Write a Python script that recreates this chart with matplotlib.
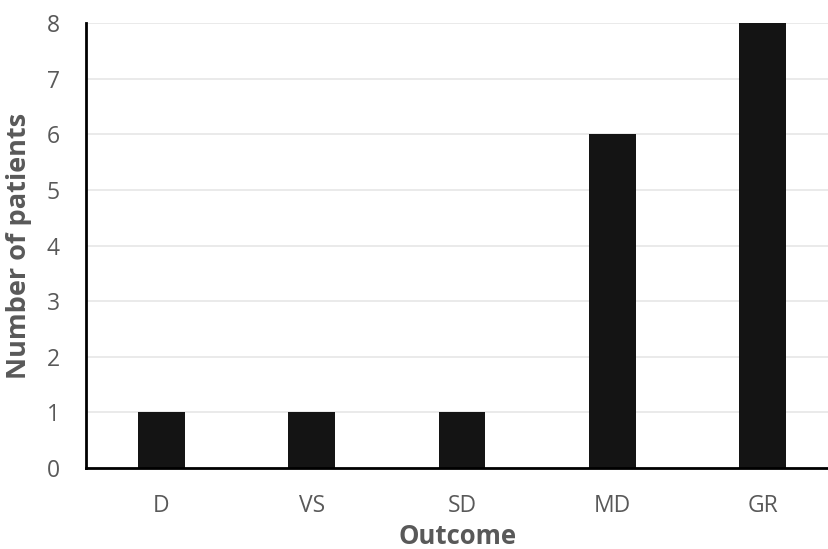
import matplotlib.pyplot as plt

outcomes = ['D', 'VS', 'SD', 'MD', 'GR']
patients = [1, 1, 1, 6, 8]

plt.rcParams['font.family'] = ['Open Sans', 'DejaVu Sans']

fig = plt.figure(figsize=(8.29, 5.49), dpi=100)
ax = fig.add_axes([0.1037, 0.1475, 0.8963, 0.8106])

x = range(len(outcomes))
ax.bar(x, patients, width=0.312, color='#141414', zorder=3)

ax.set_xlim(-0.5, 4.44)
ax.set_ylim(0, 8)
ax.set_yticks(range(0, 9))
ax.set_xticks(list(x))
ax.set_xticklabels(outcomes)
ax.grid(axis='y', color='#e6e6e6', linewidth=1.2, zorder=0)

for s in ['top', 'right']:
    ax.spines[s].set_visible(False)
for s in ['left', 'bottom']:
    ax.spines[s].set_color('black')
    ax.spines[s].set_linewidth(2)
    ax.spines[s].set_zorder(4)

ax.tick_params(length=0, colors='#595959', labelsize=16.5)
ax.tick_params(axis='x', pad=19)
ax.tick_params(axis='y', pad=19)

ax.set_xlabel('Outcome', fontsize=18.5, fontweight='bold', color='#595959', labelpad=3)
ax.set_ylabel('Number of patients', fontsize=19.5, fontweight='bold', color='#595959')
ax.yaxis.set_label_coords(-0.072, 0.5)

fig.savefig('out.png', dpi=100)
